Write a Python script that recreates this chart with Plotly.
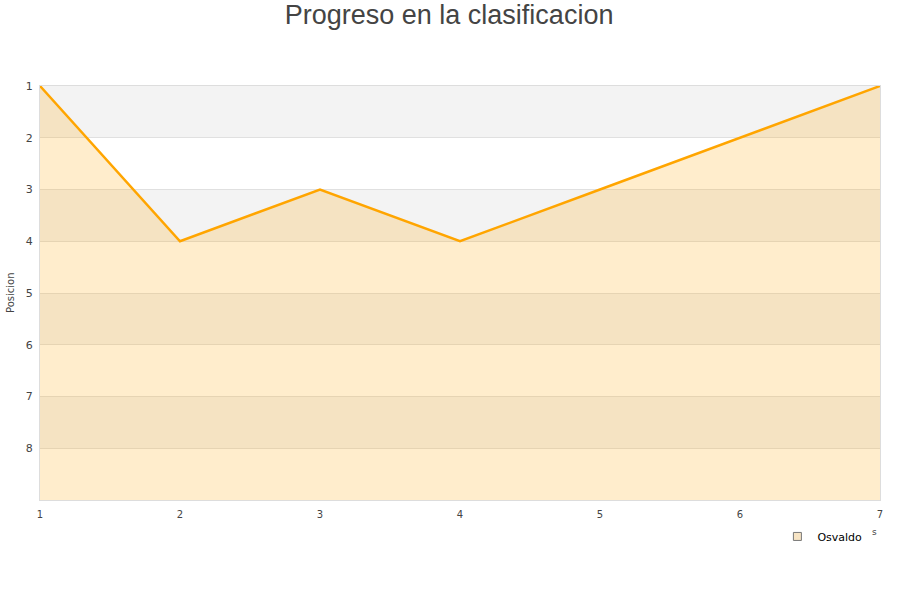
import plotly.graph_objects as go

jornadas = [1, 2, 3, 4, 5, 6, 7]
posicion = [1, 4, 3, 4, 3, 2, 1]
serie = "Osvaldo"
y_ticks = [1, 2, 3, 4, 5, 6, 7, 8]
gray_bands = [(1, 2), (3, 4), (5, 6), (7, 8)]

fig = go.Figure()

# baseline for the fill (bottom of reversed axis)
fig.add_trace(go.Scatter(x=jornadas, y=[9] * len(jornadas), mode="lines",
                         line=dict(width=0, color="rgba(0,0,0,0)"),
                         showlegend=False, hoverinfo="skip"))
fig.add_trace(go.Scatter(x=jornadas, y=posicion, mode="lines", name=serie,
                         line=dict(color="#ffa500", width=2.5),
                         fill="tonexty", fillcolor="rgba(255,165,0,0.2)",
                         showlegend=False))
# legend entry
fig.add_trace(go.Scatter(x=[None], y=[None], mode="markers", name=serie,
                         marker=dict(symbol="square", size=8, color="#f7e4c4",
                                     line=dict(color="#777", width=1))))

shapes = []
for a, b in gray_bands:
    shapes.append(dict(type="rect", xref="paper", yref="y", x0=0, x1=1, y0=a, y1=b,
                       fillcolor="#f3f3f3", line=dict(width=0), layer="below"))

fig.update_layout(
    width=900, height=600,
    paper_bgcolor="white", plot_bgcolor="white",
    margin=dict(l=40, r=20, t=86, b=100, autoexpand=False),
    title=dict(text="Progreso en la clasificacion", x=0.499, xanchor="center",
               y=0.975, yanchor="middle",
               font=dict(family="Liberation Sans", size=27, color="#444")),
    shapes=shapes,
    showlegend=True,
    legend=dict(x=0.985, y=-0.053, xanchor="right", yanchor="top",
                font=dict(family="DejaVu Sans", size=11, color="#000"),
                bgcolor="rgba(0,0,0,0)"),
    font=dict(family="DejaVu Sans", size=11, color="#444"),
)
fig.update_xaxes(range=[1, 7], tickvals=jornadas, showgrid=False, zeroline=False,
                 showline=True, linecolor="#ddd", mirror=True, automargin=False,
                 ticks="", ticklabelstandoff=5, tickfont=dict(size=10, color="#444"))
fig.update_yaxes(range=[9, 1], tickvals=y_ticks, showgrid=True, gridcolor="#e0e0e0",
                 zeroline=False, showline=True, linecolor="#ddd", mirror=True,
                 automargin=False, ticks="", ticklabelstandoff=4,
                 tickfont=dict(size=11, color="#444"))
fig.add_annotation(text="Posicion", xref="paper", yref="paper", x=-0.0357, y=0.5,
                   xanchor="center", yanchor="middle", textangle=-90,
                   showarrow=False, font=dict(size=10, color="#444"))
fig.add_annotation(text="s", xref="paper", yref="paper", x=0.999, y=-0.095,
                   showarrow=False, font=dict(size=9, color="#444"))

fig.write_html("out.html", config={"displayModeBar": False},
               post_script="document.body.style.margin='0';document.body.style.padding='0';")
